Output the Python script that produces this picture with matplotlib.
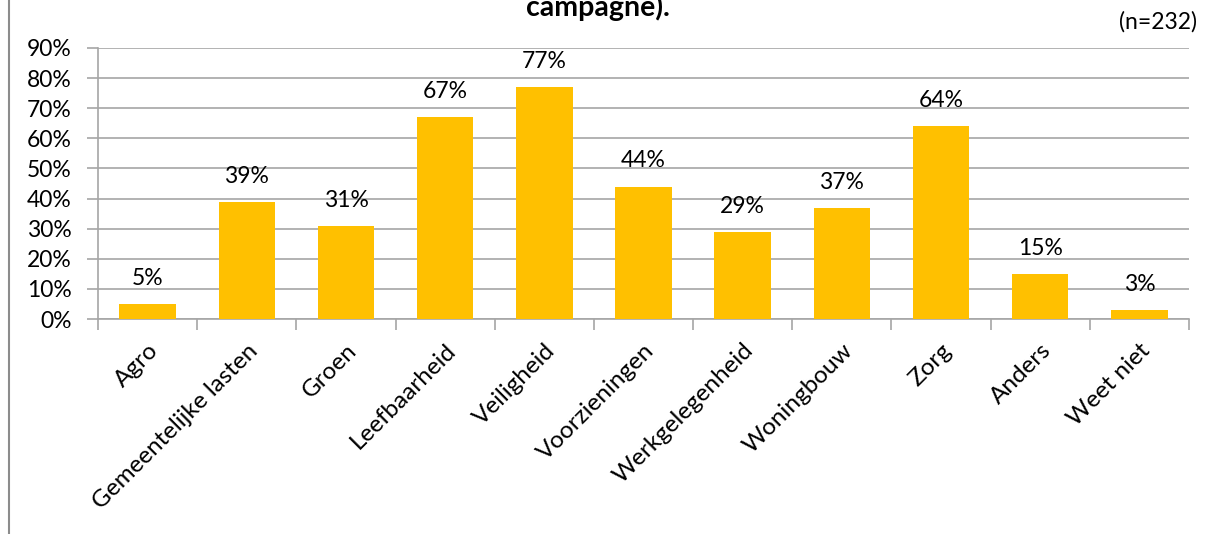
import numpy as np
import matplotlib.pyplot as plt
import matplotlib.transforms as mtransforms
from matplotlib.lines import Line2D
from matplotlib.ticker import FixedLocator

plt.rcParams['font.family'] = ['Lato', 'DejaVu Sans']

# Data
categories = ['Agro', 'Gemeentelijke lasten', 'Groen', 'Leefbaarheid', 'Veiligheid',
              'Voorzieningen', 'Werkgelegenheid', 'Woningbouw', 'Zorg', 'Anders', 'Weet niet']
values = [5, 39, 31, 67, 77, 44, 29, 37, 64, 15, 3]
yticks = [0, 10, 20, 30, 40, 50, 60, 70, 80, 90]

grid_color = '#A6A6A6'
bar_color = '#FFC000'
fs = 16.5

fig = plt.figure(figsize=(12.07, 5.34), dpi=100)
ax = fig.add_axes([98 / 1207, 1 - 319 / 534, (1189 - 98) / 1207, (319 - 48) / 534])

x = np.arange(len(categories))
bars = ax.bar(x, values, width=0.57, color=bar_color, zorder=3)

for xi, v in zip(x, values):
    ax.text(xi, v + 5, f'{v}%', ha='center', va='bottom', fontsize=fs)

ax.set_xlim(-0.5, len(categories) - 0.5)
ax.set_ylim(0, 90)
ax.set_yticks(yticks)
ax.set_yticklabels([f'{t}%' for t in yticks], fontsize=fs)
ax.yaxis.grid(True, color=grid_color, lw=1.2, zorder=0)

# category labels, ticks between categories
ax.set_xticks(x)
ax.set_xticklabels(categories, rotation=45, ha='right', rotation_mode='anchor', fontsize=17.5)
ax.tick_params(axis='x', which='major', length=0, pad=15)
ax.xaxis.set_minor_locator(FixedLocator(np.arange(-0.5, len(categories), 1)))
ax.tick_params(axis='x', which='minor', length=8, color=grid_color, width=1.2)
ax.tick_params(axis='y', length=8, color=grid_color, width=1.2, pad=11)
shift = mtransforms.ScaledTranslation(0.0, 0, fig.dpi_scale_trans)
for lbl in ax.get_xticklabels():
    lbl.set_transform(lbl.get_transform() + shift)

for s in ['top', 'right']:
    ax.spines[s].set_visible(False)
for s in ['left', 'bottom']:
    ax.spines[s].set_color(grid_color)
    ax.spines[s].set_linewidth(1.2)

# title (its upper part is cut off at the top, as in the reference) and sample size
fig.text(0.495, 1 - 16 / 534, 'campagne).', ha='center', va='baseline',
         fontsize=20.5, fontweight='bold')
fig.text(1197 / 1207, 1 - 22 / 534, '(n=232)', ha='right', va='center', fontsize=fs)

# left border of the chart area
fig.add_artist(Line2D([8.5 / 1207, 8.5 / 1207], [0, 1], color='#8C8C8C', lw=1.5))

fig.savefig('out.png', dpi=100)
